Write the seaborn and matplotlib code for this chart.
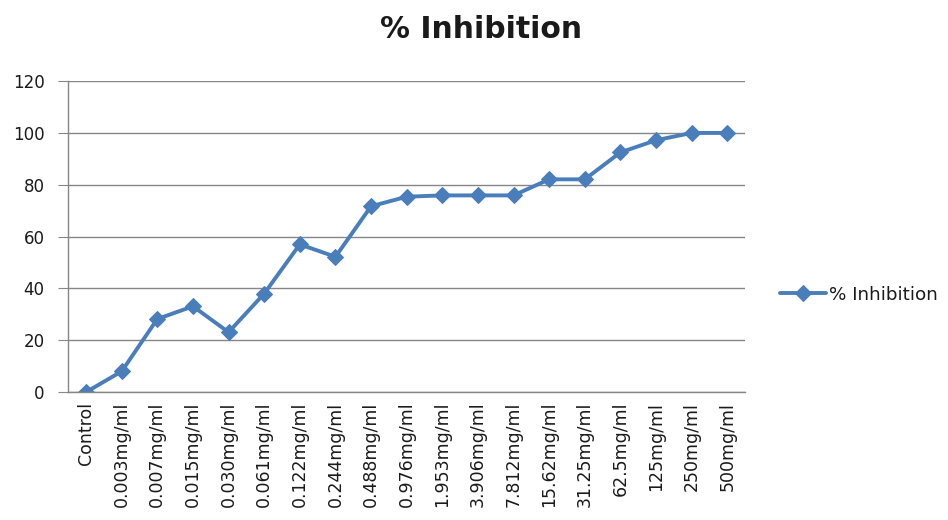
import matplotlib
matplotlib.use("Agg")
import matplotlib.pyplot as plt
from matplotlib.ticker import FixedLocator, NullFormatter
import seaborn as sns
import pandas as pd

concentrations = ["Control", "0.003mg/ml", "0.007mg/ml", "0.015mg/ml", "0.030mg/ml",
                  "0.061mg/ml", "0.122mg/ml", "0.244mg/ml", "0.488mg/ml", "0.976mg/ml",
                  "1.953mg/ml", "3.906mg/ml", "7.812mg/ml", "15.62mg/ml", "31.25mg/ml",
                  "62.5mg/ml", "125mg/ml", "250mg/ml", "500mg/ml"]
inhibition = [0, 8, 28.2, 33.1, 23.1, 38, 57, 52.2, 71.7, 75.4,
              75.9, 75.9, 75.9, 82.1, 82.1, 92.5, 97.2, 100, 100]
y_ticks = [0, 20, 40, 60, 80, 100, 120]

df = pd.DataFrame({"pos": range(len(concentrations)),
                   "conc": concentrations,
                   "value": inhibition})

sns.set_style("white")
plt.rcParams["font.family"] = ["DejaVu Sans"]
plt.rcParams["text.color"] = "#1a1a1a"
plt.rcParams["xtick.color"] = "#1a1a1a"
plt.rcParams["ytick.color"] = "#1a1a1a"

fig = plt.figure(figsize=(9.48, 5.2), dpi=100)
ax = fig.add_axes([0.072, 0.246, 0.714, 0.598])

line_color = "#4A7EBB"
sns.lineplot(data=df, x="pos", y="value", ax=ax, color=line_color,
             linewidth=2.8, marker="D", markersize=8, markeredgecolor=line_color,
             label="% Inhibition", sort=False)

grid_grey = "#868686"
ax.set_xlim(-0.5, len(concentrations) - 0.5)
ax.set_ylim(0, 120)
ax.set_yticks(y_ticks)
ax.set_xticks(range(len(concentrations)))
ax.set_xticklabels(concentrations, rotation=90, fontsize=12.5)
ax.tick_params(axis="x", which="major", length=0, pad=7)
ax.xaxis.set_minor_locator(FixedLocator([i - 0.5 for i in range(len(concentrations) + 1)]))
ax.xaxis.set_minor_formatter(NullFormatter())
ax.tick_params(axis="x", which="minor", length=5, color=grid_grey, direction="out")
ax.tick_params(axis="y", length=7, color=grid_grey, labelsize=12, pad=10, left=True)
ax.set_xlabel("")
ax.set_ylabel("")

ax.grid(axis="y", color=grid_grey, linewidth=1.0)
ax.set_axisbelow(True)
for side in ["top", "right"]:
    ax.spines[side].set_visible(False)
for side in ["left", "bottom"]:
    ax.spines[side].set_color(grid_grey)
    ax.spines[side].set_linewidth(1.0)

fig.text(0.507, 0.943, "% Inhibition", ha="center", va="center",
         fontsize=21.5, fontweight="bold")

ax.legend(loc="center left", bbox_to_anchor=(0.823, 0.433),
          bbox_transform=fig.transFigure, frameon=False, borderaxespad=0,
          borderpad=0, fontsize=13.2, handlelength=2.5, handletextpad=0.15)

fig.savefig("out.png", dpi=100, facecolor="white")
